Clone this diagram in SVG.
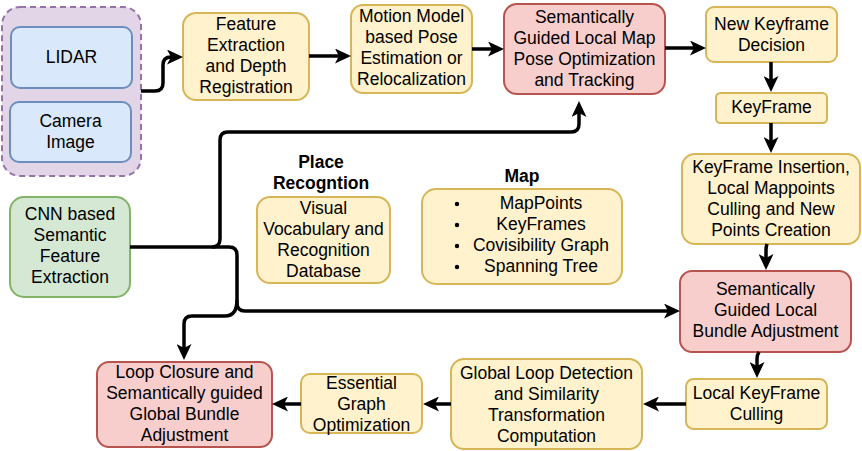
<svg xmlns="http://www.w3.org/2000/svg" width="862" height="451" viewBox="0 0 862 451">
<defs>
<style>
text{font-family:"Liberation Sans",Arial,Helvetica,sans-serif;font-size:17.5px;fill:#000;text-anchor:middle}
.b{font-weight:bold}
.y{fill:#fff2cc;stroke:#d6b656;stroke-width:2}
.r{fill:#f8cecc;stroke:#b85450;stroke-width:2}
.bl{fill:#dae8fc;stroke:#6c8ebf;stroke-width:2}
.g{fill:#d5e8d4;stroke:#82b366;stroke-width:2}
.p{fill:#e1d5e7;stroke:#9673a6;stroke-width:2;stroke-dasharray:6 4}
.c{fill:none;stroke:#000;stroke-width:3.5;stroke-linejoin:round;marker-end:url(#ah)}
.cn{fill:none;stroke:#000;stroke-width:3.5;stroke-linejoin:round}
</style>
<marker id="ah" viewBox="0 0 16 15" refX="8" refY="7.5" markerWidth="16" markerHeight="15" markerUnits="userSpaceOnUse" orient="auto">
<path d="M0,0 L16,7.5 L0,15 L4,7.5 Z" fill="#000"/>
</marker>
</defs>

<g id="sensors">
<rect class="p" x="2" y="7" width="139" height="169" rx="18"/>
</g>
<g id="lidar">
<rect class="bl" x="11" y="27" width="121" height="61" rx="9"/>
<text x="71.5" y="63">LIDAR</text>
</g>
<g id="camera">
<rect class="bl" x="10" y="102" width="121" height="60" rx="9"/>
<text x="70.5" y="127">Camera</text>
<text x="70.5" y="148">Image</text>
</g>
<g id="feature">
<rect class="y" x="183" y="13" width="126" height="87" rx="13"/>
<text x="246" y="30">Feature</text>
<text x="246" y="51">Extraction</text>
<text x="246" y="72">and Depth</text>
<text x="246" y="93">Registration</text>
</g>
<g id="motion">
<rect class="y" x="351" y="5" width="121" height="88" rx="12"/>
<text x="411.5" y="22">Motion Model</text>
<text x="411.5" y="43">based Pose</text>
<text x="411.5" y="64">Estimation or</text>
<text x="411.5" y="85">Relocalization</text>
</g>
<g id="semmap">
<rect class="r" x="504" y="4" width="161" height="90" rx="13"/>
<text x="584.5" y="23">Semantically</text>
<text x="584.5" y="44">Guided Local Map</text>
<text x="584.5" y="65">Pose Optimization</text>
<text x="584.5" y="86">and Tracking</text>
</g>
<g id="newkf">
<rect class="y" x="706" y="7" width="131" height="55" rx="8"/>
<text x="771.5" y="30">New Keyframe</text>
<text x="771.5" y="51">Decision</text>
</g>
<g id="keyframe">
<rect class="y" x="716" y="93" width="111" height="30" rx="4.5"/>
<text x="771.5" y="113">KeyFrame</text>
</g>
<g id="kfinsert">
<rect class="y" x="682" y="154" width="178" height="90" rx="13"/>
<text x="771" y="173">KeyFrame Insertion,</text>
<text x="771" y="194">Local Mappoints</text>
<text x="771" y="215">Culling and New</text>
<text x="771" y="236">Points Creation</text>
</g>
<g id="localba">
<rect class="r" x="680" y="271" width="171" height="81" rx="12"/>
<text x="765.5" y="295">Semantically</text>
<text x="765.5" y="316">Guided Local</text>
<text x="765.5" y="337">Bundle Adjustment</text>
</g>
<g id="lkfculling">
<rect class="y" x="686" y="379" width="141" height="50" rx="7.5"/>
<text x="756.5" y="399">Local KeyFrame</text>
<text x="756.5" y="420">Culling</text>
</g>
<g id="globalloop">
<rect class="y" x="451" y="359" width="191" height="90" rx="13"/>
<text x="546.5" y="379">Global Loop Detection</text>
<text x="546.5" y="400">and Similarity</text>
<text x="546.5" y="421">Transformation</text>
<text x="546.5" y="442">Computation</text>
</g>
<g id="essential">
<rect class="y" x="301" y="374" width="121" height="59" rx="9"/>
<text x="361.5" y="389">Essential</text>
<text x="361.5" y="410">Graph</text>
<text x="361.5" y="431">Optimization</text>
</g>
<g id="loopclosure">
<rect class="r" x="97" y="362" width="175" height="85" rx="12"/>
<text x="184.5" y="378">Loop Closure and</text>
<text x="184.5" y="399">Semantically guided</text>
<text x="184.5" y="420">Global Bundle</text>
<text x="184.5" y="441">Adjustment</text>
</g>
<g id="cnn">
<rect class="g" x="10" y="197" width="120" height="100" rx="14"/>
<text x="70" y="220">CNN based</text>
<text x="70" y="241">Semantic</text>
<text x="70" y="262">Feature</text>
<text x="70" y="283">Extraction</text>
</g>
<g id="placerec">
<text class="b" x="321" y="168">Place</text>
<text class="b" x="321" y="189">Recogntion</text>
<rect class="y" x="257" y="197" width="133" height="86" rx="13"/>
<text x="323.5" y="214">Visual</text>
<text x="323.5" y="235">Vocabulary and</text>
<text x="323.5" y="256">Recognition</text>
<text x="323.5" y="277">Database</text>
</g>
<g id="map">
<text class="b" x="522" y="182">Map</text>
<rect class="y" x="422" y="189" width="200" height="95" rx="14"/>
<circle cx="457" cy="204" r="2.2" fill="#000"/>
<circle cx="457" cy="225" r="2.2" fill="#000"/>
<circle cx="457" cy="246" r="2.2" fill="#000"/>
<circle cx="457" cy="267" r="2.2" fill="#000"/>
<text x="541" y="209">MapPoints</text>
<text x="541" y="230">KeyFrames</text>
<text x="541" y="251">Covisibility Graph</text>
<text x="541" y="272">Spanning Tree</text>
</g>

<g id="connectors">
<path class="c" d="M141,91 H155 Q163,91 163,83 V65 Q163,57 171,57 H175"/>
<path class="c" d="M309,56 H343"/>
<path class="c" d="M472,49 H496"/>
<path class="c" d="M665,48 H698"/>
<path class="c" d="M771,62 V84"/>
<path class="c" d="M771,123 V145"/>
<path class="c" d="M767,244 Q766,247 766,250 V262"/>
<path class="c" d="M759,352 Q757,355 757,359 V370"/>
<path class="c" d="M686,404 H651"/>
<path class="c" d="M451,404 H431"/>
<path class="c" d="M301,404 H280"/>
<path class="c" d="M130,247 H212 Q220,247 220,239 V140 Q220,132 228,132 H571 Q579,132 579,124 V109"/>
<path class="c" d="M212,247 H229 Q237,247 237,255 V303 Q237,311 245,311 H672"/>
<path class="c" d="M237,300 Q237,316 225,316 H192 Q184,316 184,324 V352"/>
</g>
</svg>
